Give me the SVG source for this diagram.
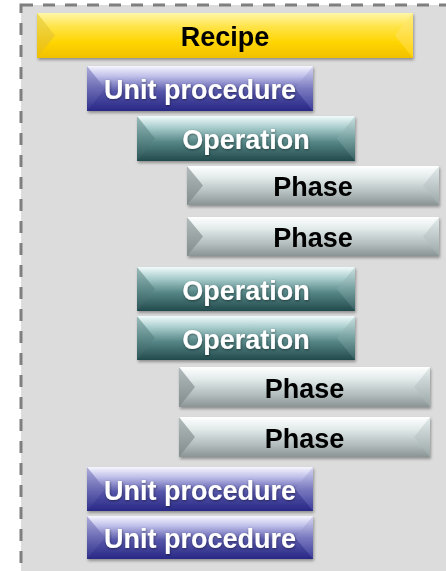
<svg xmlns="http://www.w3.org/2000/svg" width="446" height="571" viewBox="0 0 446 571">
  <defs>
    <style>
      .lbl { font-family: "Liberation Sans", Arial, sans-serif; font-weight: bold; font-size: 27px; text-anchor: middle; }
      .dark { fill: #000000; }
      .light { fill: #ffffff; filter: url(#glow); }
      .frame { fill: #dcdcdc; stroke: #7f7f7f; stroke-width: 3; stroke-dasharray: 12 10; }
      .box { filter: url(#shadow); }
    </style>
    <filter id="shadow" x="-5%" y="-20%" width="112%" height="150%">
      <feDropShadow dx="1" dy="2" stdDeviation="1.4" flood-color="#000" flood-opacity="0.35"/>
    </filter>
    <filter id="glow" x="-5%" y="-20%" width="110%" height="150%">
      <feDropShadow dx="0.5" dy="1" stdDeviation="0.8" flood-color="#000" flood-opacity="0.45"/>
    </filter>

    <!-- Recipe (gold) -->
    <linearGradient id="gRecipe" x1="0" y1="0" x2="0" y2="1">
      <stop offset="0" stop-color="#fff6a8"/>
      <stop offset="0.3" stop-color="#ffe44a"/>
      <stop offset="0.65" stop-color="#ffd500"/>
      <stop offset="1" stop-color="#f0c000"/>
    </linearGradient>
    <linearGradient id="lRecipe" x1="0" y1="0" x2="0" y2="1">
      <stop offset="0" stop-color="#eeda58"/>
      <stop offset="1" stop-color="#efbe00"/>
    </linearGradient>
    <linearGradient id="rRecipe" x1="0" y1="0" x2="0" y2="1">
      <stop offset="0" stop-color="#ffec80"/>
      <stop offset="1" stop-color="#ffd20e"/>
    </linearGradient>

    <!-- Unit procedure (indigo) -->
    <linearGradient id="gUnit" x1="0" y1="0" x2="0" y2="1">
      <stop offset="0" stop-color="#f6f6ff"/>
      <stop offset="0.24" stop-color="#bcbce8"/>
      <stop offset="0.56" stop-color="#5656aa"/>
      <stop offset="1" stop-color="#282886"/>
    </linearGradient>
    <linearGradient id="lUnit" x1="0" y1="0" x2="0" y2="1">
      <stop offset="0" stop-color="#b0b0dc"/>
      <stop offset="0.5" stop-color="#6a6ab4"/>
      <stop offset="1" stop-color="#30308c"/>
    </linearGradient>
    <linearGradient id="rUnit" x1="0" y1="0" x2="0" y2="1">
      <stop offset="0" stop-color="#dadaf6"/>
      <stop offset="0.5" stop-color="#7a7ac0"/>
      <stop offset="1" stop-color="#3c3c9a"/>
    </linearGradient>

    <!-- Operation (teal) -->
    <linearGradient id="gOp" x1="0" y1="0" x2="0" y2="1">
      <stop offset="0" stop-color="#f2fbfb"/>
      <stop offset="0.26" stop-color="#a8cccc"/>
      <stop offset="0.58" stop-color="#568686"/>
      <stop offset="1" stop-color="#224a4c"/>
    </linearGradient>
    <linearGradient id="lOp" x1="0" y1="0" x2="0" y2="1">
      <stop offset="0" stop-color="#9cbcbc"/>
      <stop offset="0.5" stop-color="#5e8a8a"/>
      <stop offset="1" stop-color="#2c5456"/>
    </linearGradient>
    <linearGradient id="rOp" x1="0" y1="0" x2="0" y2="1">
      <stop offset="0" stop-color="#cce2e2"/>
      <stop offset="0.5" stop-color="#76a0a0"/>
      <stop offset="1" stop-color="#365e60"/>
    </linearGradient>

    <!-- Phase (silver) -->
    <linearGradient id="gPhase" x1="0" y1="0" x2="0" y2="1">
      <stop offset="0" stop-color="#ffffff"/>
      <stop offset="0.3" stop-color="#e2eaea"/>
      <stop offset="0.7" stop-color="#b2bcbc"/>
      <stop offset="1" stop-color="#8a9494"/>
    </linearGradient>
    <linearGradient id="lPhase" x1="0" y1="0" x2="0" y2="1">
      <stop offset="0" stop-color="#b2bcbc"/>
      <stop offset="1" stop-color="#828c8c"/>
    </linearGradient>
    <linearGradient id="rPhase" x1="0" y1="0" x2="0" y2="1">
      <stop offset="0" stop-color="#e4ecec"/>
      <stop offset="1" stop-color="#9aa6a6"/>
    </linearGradient>
  </defs>

  <!-- white page with the dashed grey panel -->
  <rect x="0" y="0" width="446" height="571" fill="#ffffff"/>
  <rect class="frame" x="21" y="5" width="460" height="600"/>

  <!-- Recipe -->
  <g id="recipe" class="box">
    <rect x="37" y="13" width="376" height="45" fill="url(#gRecipe)"/>
    <polygon points="37,13 55,35.5 37,58" fill="url(#lRecipe)"/>
    <polygon points="413,13 395,35.5 413,58" fill="url(#rRecipe)"/>
    <text class="lbl dark" x="225" y="46">Recipe</text>
  </g>

  <!-- Unit procedure 1 -->
  <g id="unit-procedure-1" class="box">
    <rect x="87" y="66" width="226" height="45" fill="url(#gUnit)"/>
    <polygon points="87,66 105,88.5 87,111" fill="url(#lUnit)"/>
    <polygon points="313,66 295,88.5 313,111" fill="url(#rUnit)"/>
    <text class="lbl light" x="200" y="99">Unit procedure</text>
  </g>

  <!-- Operation 1 -->
  <g id="operation-1" class="box">
    <rect x="137" y="116" width="218" height="45" fill="url(#gOp)"/>
    <polygon points="137,116 155,138.5 137,161" fill="url(#lOp)"/>
    <polygon points="355,116 337,138.5 355,161" fill="url(#rOp)"/>
    <text class="lbl light" x="246" y="149">Operation</text>
  </g>

  <!-- Phase 1 -->
  <g id="phase-1" class="box">
    <rect x="187" y="166" width="252" height="39" fill="url(#gPhase)"/>
    <polygon points="187,166 203,185.5 187,205" fill="url(#lPhase)"/>
    <polygon points="439,166 423,185.5 439,205" fill="url(#rPhase)"/>
    <text class="lbl dark" x="313" y="196">Phase</text>
  </g>

  <!-- Phase 2 -->
  <g id="phase-2" class="box">
    <rect x="187" y="217" width="252" height="39" fill="url(#gPhase)"/>
    <polygon points="187,217 203,236.5 187,256" fill="url(#lPhase)"/>
    <polygon points="439,217 423,236.5 439,256" fill="url(#rPhase)"/>
    <text class="lbl dark" x="313" y="247">Phase</text>
  </g>

  <!-- Operation 2 -->
  <g id="operation-2" class="box">
    <rect x="137" y="267" width="218" height="44" fill="url(#gOp)"/>
    <polygon points="137,267 155,289 137,311" fill="url(#lOp)"/>
    <polygon points="355,267 337,289 355,311" fill="url(#rOp)"/>
    <text class="lbl light" x="246" y="299.5">Operation</text>
  </g>

  <!-- Operation 3 -->
  <g id="operation-3" class="box">
    <rect x="137" y="316" width="218" height="44" fill="url(#gOp)"/>
    <polygon points="137,316 155,338 137,360" fill="url(#lOp)"/>
    <polygon points="355,316 337,338 355,360" fill="url(#rOp)"/>
    <text class="lbl light" x="246" y="348.5">Operation</text>
  </g>

  <!-- Phase 3 -->
  <g id="phase-3" class="box">
    <rect x="179" y="367" width="251" height="40" fill="url(#gPhase)"/>
    <polygon points="179,367 195,387 179,407" fill="url(#lPhase)"/>
    <polygon points="430,367 414,387 430,407" fill="url(#rPhase)"/>
    <text class="lbl dark" x="304.5" y="397.5">Phase</text>
  </g>

  <!-- Phase 4 -->
  <g id="phase-4" class="box">
    <rect x="179" y="417" width="251" height="40" fill="url(#gPhase)"/>
    <polygon points="179,417 195,437 179,457" fill="url(#lPhase)"/>
    <polygon points="430,417 414,437 430,457" fill="url(#rPhase)"/>
    <text class="lbl dark" x="304.5" y="447.5">Phase</text>
  </g>

  <!-- Unit procedure 2 -->
  <g id="unit-procedure-2" class="box">
    <rect x="87" y="467" width="226" height="44" fill="url(#gUnit)"/>
    <polygon points="87,467 105,489 87,511" fill="url(#lUnit)"/>
    <polygon points="313,467 295,489 313,511" fill="url(#rUnit)"/>
    <text class="lbl light" x="200" y="499.5">Unit procedure</text>
  </g>

  <!-- Unit procedure 3 -->
  <g id="unit-procedure-3" class="box">
    <rect x="87" y="516" width="226" height="43" fill="url(#gUnit)"/>
    <polygon points="87,516 105,537.5 87,559" fill="url(#lUnit)"/>
    <polygon points="313,516 295,537.5 313,559" fill="url(#rUnit)"/>
    <text class="lbl light" x="200" y="548">Unit procedure</text>
  </g>
</svg>
